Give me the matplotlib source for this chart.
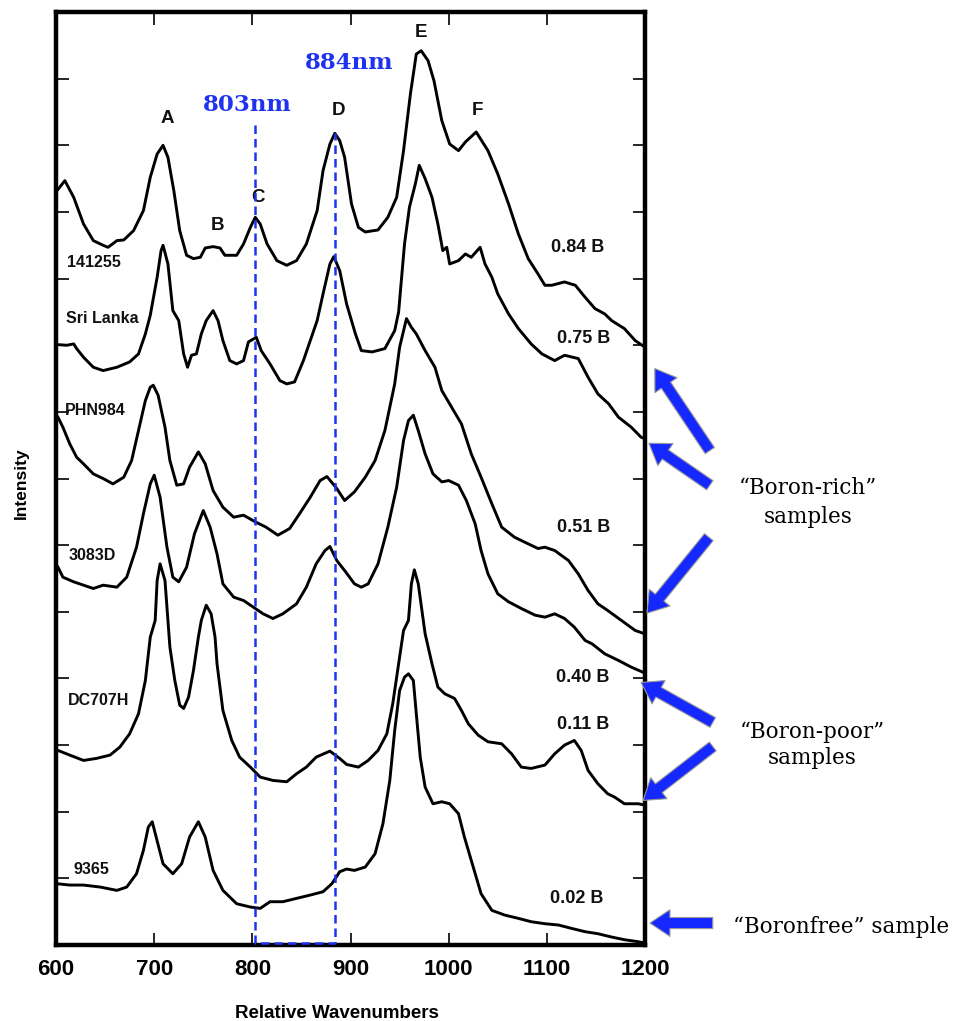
import numpy as np
import matplotlib.pyplot as plt

plt.rcParams['font.family'] = ['Liberation Sans', 'DejaVu Sans']

# Raman spectra, (relative wavenumber, intensity a.u.), stacked with offsets
s_141255 = np.array([
    (601, 1132), (609, 1147), (618, 1122), (628, 1082), (638, 1057), (648, 1050), (653, 1047),
    (662, 1057), (669, 1058), (679, 1072), (689, 1102), (696, 1152), (703, 1187), (709, 1200),
    (714, 1182), (720, 1132), (726, 1072), (733, 1035), (740, 1030), (747, 1032), (752, 1046),
    (760, 1048), (767, 1046), (772, 1035), (784, 1035), (791, 1052), (798, 1077), (803, 1092),
    (808, 1082), (815, 1052), (825, 1027), (835, 1020), (845, 1027), (855, 1052), (866, 1102),
    (872, 1162), (879, 1202), (884, 1218), (889, 1207), (894, 1182), (901, 1112), (908, 1077),
    (915, 1070), (928, 1073), (938, 1092), (947, 1122), (954, 1192), (961, 1277), (967, 1337),
    (972, 1342), (979, 1327), (985, 1297), (993, 1237), (1001, 1202), (1010, 1192), (1017, 1205),
    (1028, 1220), (1040, 1192), (1050, 1157), (1061, 1112), (1071, 1067), (1081, 1030),
    (1091, 1007), (1098, 990), (1105, 990), (1118, 995), (1129, 990), (1139, 972), (1149, 955),
    (1159, 947), (1166, 937), (1179, 925), (1190, 907), (1200, 897),
])

s_srilanka = np.array([
    (601, 901), (611, 900), (618, 902), (621, 895), (628, 882), (638, 867), (648, 862),
    (662, 867), (675, 875), (684, 887), (691, 917), (696, 945), (703, 1002), (707, 1042),
    (709, 1050), (714, 1022), (719, 952), (725, 937), (730, 887), (734, 867), (738, 885),
    (743, 887), (748, 917), (753, 937), (760, 952), (765, 937), (770, 907), (777, 877),
    (784, 872), (791, 877), (796, 905), (804, 912), (809, 892), (818, 872), (828, 847),
    (835, 842), (843, 845), (852, 877), (859, 907), (866, 937), (872, 977), (879, 1022),
    (883, 1033), (889, 1012), (896, 962), (905, 917), (911, 892), (922, 890), (935, 895),
    (945, 922), (949, 950), (955, 1052), (960, 1107), (966, 1142), (970, 1170), (976, 1150),
    (983, 1122), (989, 1082), (994, 1042), (998, 1047), (1001, 1022), (1010, 1027),
    (1017, 1037), (1023, 1032), (1032, 1047), (1037, 1022), (1044, 1002), (1050, 977),
    (1061, 947), (1071, 925), (1084, 902), (1095, 887), (1108, 877), (1118, 885), (1132, 880),
    (1142, 852), (1152, 827), (1163, 812), (1173, 792), (1186, 777), (1196, 762), (1200, 760),
])

s_phn984 = np.array([
    (602, 792), (607, 777), (614, 752), (621, 732), (628, 722), (638, 707), (648, 700),
    (658, 692), (669, 702), (677, 727), (684, 772), (691, 817), (696, 837), (699, 840),
    (704, 825), (711, 777), (716, 727), (723, 690), (730, 692), (736, 717), (745, 740),
    (752, 722), (760, 682), (770, 657), (781, 642), (791, 645), (803, 635), (814, 627),
    (826, 615), (838, 625), (848, 647), (859, 672), (869, 697), (876, 703), (886, 685),
    (894, 667), (904, 680), (915, 702), (925, 727), (935, 772), (945, 842), (950, 897),
    (957, 940), (962, 927), (967, 917), (976, 892), (986, 867), (993, 832), (1003, 807),
    (1013, 782), (1023, 737), (1033, 702), (1044, 662), (1054, 627), (1067, 612), (1081, 602),
    (1091, 595), (1098, 597), (1108, 592), (1122, 577), (1132, 557), (1142, 532), (1152, 512),
    (1162, 502), (1176, 487), (1190, 472), (1200, 467),
])

s_3083d = np.array([
    (602, 567), (607, 552), (618, 545), (628, 540), (638, 535), (648, 540), (662, 537),
    (672, 552), (682, 597), (689, 647), (696, 692), (700, 705), (706, 672), (713, 597),
    (719, 552), (725, 545), (733, 567), (741, 617), (750, 652), (757, 627), (764, 587),
    (770, 542), (781, 522), (791, 517), (801, 507), (811, 497), (821, 490), (831, 497),
    (845, 512), (855, 537), (865, 572), (874, 592), (879, 598), (886, 577), (895, 560),
    (904, 542), (911, 537), (918, 542), (928, 572), (938, 627), (947, 687), (954, 757),
    (959, 787), (964, 795), (969, 772), (976, 737), (984, 707), (993, 695), (1000, 697),
    (1010, 690), (1018, 667), (1027, 632), (1033, 592), (1040, 557), (1050, 527), (1061, 515),
    (1074, 505), (1088, 495), (1098, 492), (1108, 497), (1118, 490), (1128, 477), (1139, 457),
    (1146, 452), (1159, 437), (1173, 427), (1186, 417), (1200, 408),
])

s_dc707h = np.array([
    (602, 292), (614, 285), (628, 277), (641, 280), (655, 285), (665, 297), (675, 317),
    (684, 347), (691, 397), (696, 462), (701, 487), (703, 547), (706, 572), (711, 547),
    (714, 487), (716, 447), (721, 397), (726, 360), (730, 355), (735, 372), (740, 412),
    (745, 462), (748, 487), (753, 510), (758, 497), (762, 462), (764, 422), (770, 352),
    (779, 307), (787, 282), (798, 267), (808, 252), (821, 247), (835, 245), (845, 257),
    (855, 267), (865, 282), (879, 291), (889, 280), (896, 271), (908, 267), (918, 277),
    (928, 292), (937, 317), (943, 362), (949, 422), (954, 472), (959, 487), (962, 542),
    (965, 563), (969, 542), (976, 467), (983, 422), (989, 387), (996, 377), (1006, 370),
    (1013, 352), (1020, 332), (1030, 315), (1040, 305), (1054, 302), (1064, 287), (1074, 267),
    (1084, 265), (1098, 270), (1108, 287), (1118, 300), (1128, 307), (1135, 292), (1142, 262),
    (1152, 242), (1162, 227), (1169, 222), (1179, 212), (1193, 212), (1200, 210),
])

s_9365 = np.array([
    (601, 92), (614, 90), (628, 90), (645, 87), (662, 82), (672, 87), (682, 107), (689, 142),
    (694, 177), (698, 185), (702, 162), (709, 122), (719, 107), (728, 122), (736, 162),
    (745, 185), (752, 162), (760, 112), (770, 82), (784, 62), (798, 57), (808, 55), (818, 65),
    (831, 65), (845, 70), (859, 75), (872, 80), (881, 92), (889, 110), (896, 114), (904, 112),
    (915, 117), (925, 137), (933, 182), (940, 247), (945, 322), (950, 382), (955, 402),
    (959, 407), (964, 397), (967, 347), (971, 282), (976, 237), (984, 212), (993, 215),
    (1001, 212), (1010, 197), (1016, 162), (1025, 117), (1033, 77), (1044, 52), (1057, 45),
    (1071, 40), (1084, 35), (1098, 32), (1112, 30), (1125, 25), (1139, 20), (1152, 17),
    (1166, 12), (1179, 8), (1193, 5), (1200, 3),
])

spectra = [s_141255, s_srilanka, s_phn984, s_3083d, s_dc707h, s_9365]
sample_names = ["141255", "Sri Lanka", "PHN984", "3083D", "DC707H", "9365"]
boron_labels = ["0.84 B", "0.75 B", "0.51 B", "0.40 B", "0.11 B", "0.02 B"]
peak_letters = ["A", "B", "C", "D", "E", "F"]
marked_lines = [803, 884]

# where the labels sit
name_xy = [(611, 1024), (610, 940), (609, 802), (613, 585), (612, 367), (618, 114)]
boron_xy = [(1131, 1047), (1137, 910), (1137, 627), (1137, 402), (1137, 331), (1130, 70)]
letter_xy = [(713, 1240), (764, 1080), (806, 1122), (888, 1252), (972, 1370), (1029, 1252)]

blue = '#1e32f0'

fig = plt.figure(figsize=(9.61, 10.21), dpi=100)
ax = fig.add_axes([0.0583, 0.0744, 0.6129, 0.9138])

for spec in spectra:
    ax.plot(spec[:, 0], spec[:, 1], color='black', lw=2.1, solid_joinstyle='round')

for name, (x, y) in zip(sample_names, name_xy):
    ax.text(x, y, name, fontsize=11.5, fontweight='bold', ha='left', va='center', color='#111111')
for lab, (x, y) in zip(boron_labels, boron_xy):
    ax.text(x, y, lab, fontsize=13, fontweight='bold', ha='center', va='center', color='#111111')
for lab, (x, y) in zip(peak_letters, letter_xy):
    ax.text(x, y, lab, fontsize=13.5, fontweight='bold', ha='center', va='center', color='#111111')

# dashed markers at 803 and 884, joined along the baseline
ax.plot([marked_lines[0], marked_lines[0], marked_lines[1], marked_lines[1]],
        [1230, 3, 3, 1218], color=blue, lw=1.8, ls=(0, (3.4, 2)), zorder=3)
ax.text(795, 1261, f"{marked_lines[0]}nm", family='DejaVu Serif', fontweight='bold',
        fontsize=16.5, color=blue, ha='center', va='center')
ax.text(899, 1323, f"{marked_lines[1]}nm", family='DejaVu Serif', fontweight='bold',
        fontsize=16.5, color=blue, ha='center', va='center')

ax.set_xlim(600, 1200)
ax.set_ylim(0, 1400)
ax.set_xticks(range(600, 1201, 100))
ax.set_yticks(range(0, 1401, 100))
ax.set_yticklabels([])
ax.tick_params(axis='both', direction='in', length=9, width=1.2, top=True, right=True)
ax.tick_params(axis='x', labelsize=16, pad=10)
for lbl in ax.get_xticklabels():
    lbl.set_fontweight('bold')
for sp in ax.spines.values():
    sp.set_linewidth(3.2)

ax.set_xlabel("Relative Wavenumbers", fontsize=13.5, fontweight='bold')
ax.xaxis.set_label_coords(0.477, -0.064)
ax.text(-0.058, 0.495, "Intensity", transform=ax.transAxes, rotation=90,
        fontsize=12.5, fontweight='bold', ha='center', va='center')

# arrows pointing at the spectrum ends
arrow_tips = [(1210, 865), (1204, 753), (1202, 498), (1196, 394), (1198, 217), (1205, 33)]
arrow_tails = [(1266, 742), (1266, 690), (1265, 612), (1269, 334), (1269, 298), (1269, 33)]
for tip, tail in zip(arrow_tips, arrow_tails):
    ax.annotate('', xy=tip, xytext=tail, annotation_clip=False,
                arrowprops=dict(arrowstyle='simple,head_length=0.9,head_width=1.2,tail_width=0.5',
                                fc='#1428ff', ec='#9a9a9a', lw=0.8, mutation_scale=16,
                                shrinkA=0, shrinkB=0))

serif = dict(family='DejaVu Serif', fontsize=15.5, ha='center', va='center', clip_on=False)
ax.text(1366, 686, "\u201cBoron-rich\u201d", **serif)
ax.text(1366, 642, "samples", **serif)
ax.text(1370, 320, "\u201cBoron-poor\u201d", **serif)
ax.text(1370, 281, "samples", **serif)
ax.text(1400, 27, "\u201cBoronfree\u201d sample", **serif)

fig.savefig("out.png", dpi=100)
